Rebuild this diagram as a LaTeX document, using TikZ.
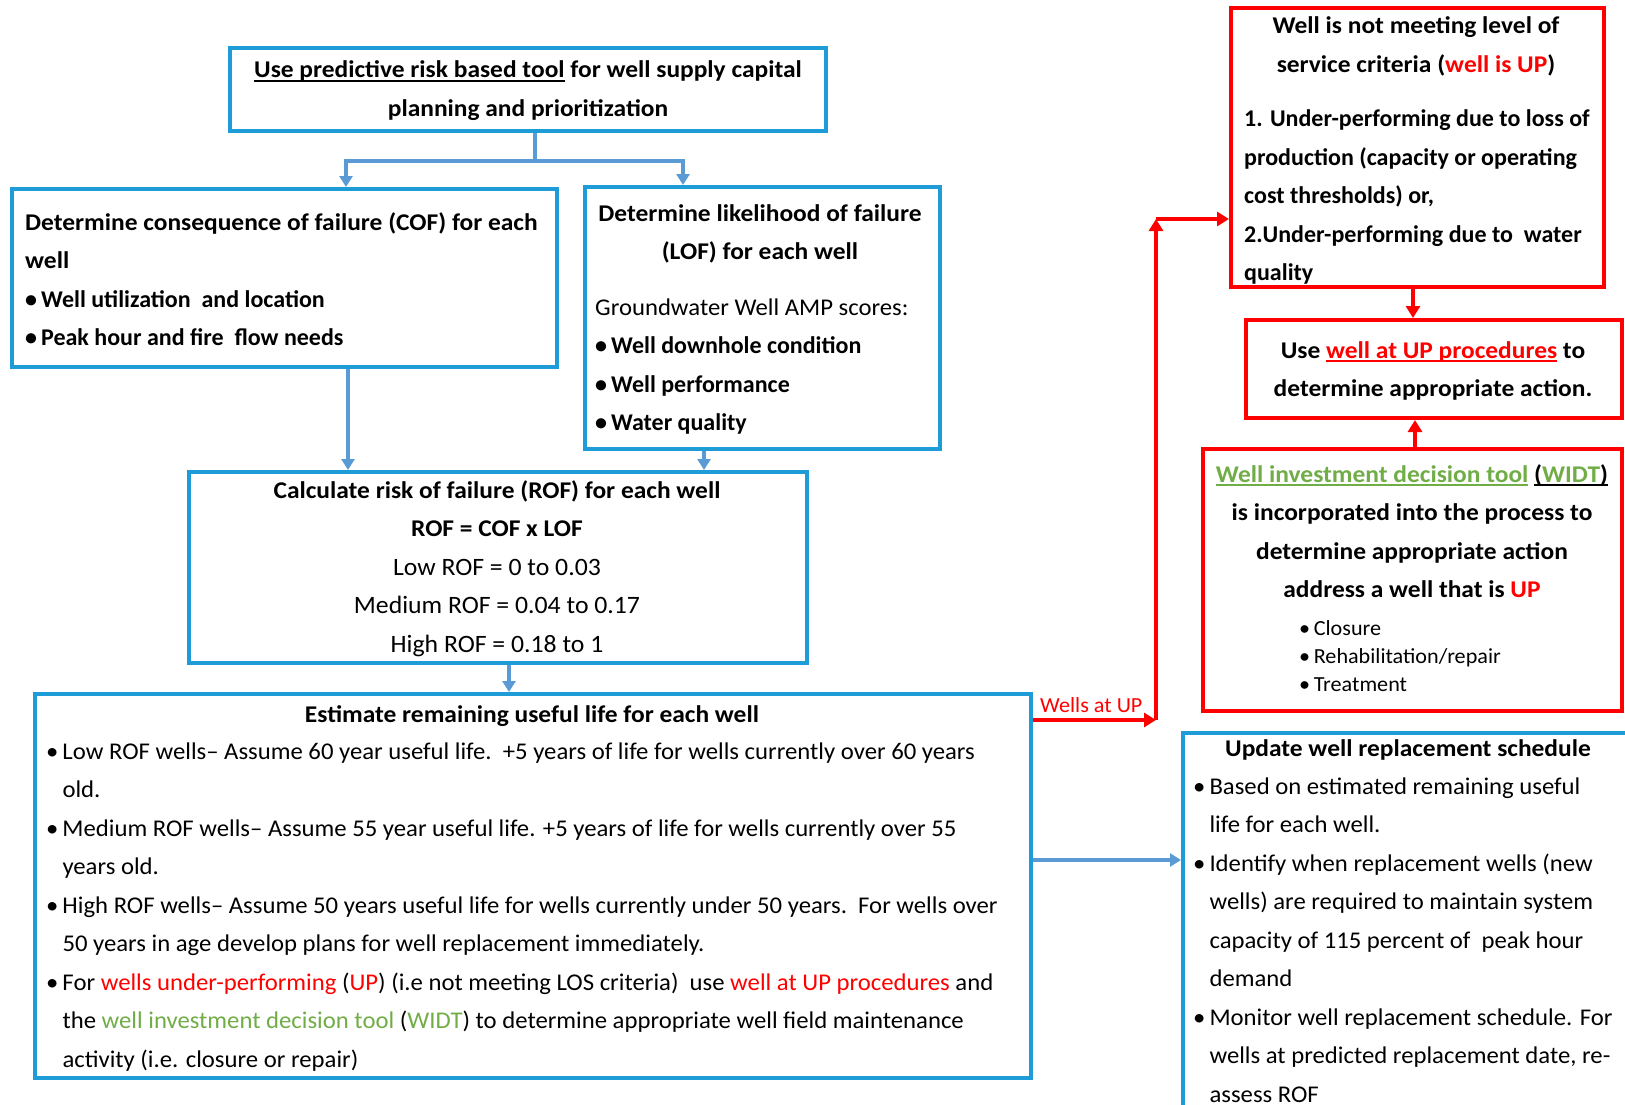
\documentclass[tikz,border=0pt]{standalone}
\usepackage{fontspec}
\setmainfont{Carlito}[UprightFeatures={FakeStretch=1.03},BoldFeatures={FakeStretch=1.06}]
\newfontfamily\plainfam{Carlito}
\usetikzlibrary{arrows.meta,fit}

\definecolor{boxblue}{HTML}{1E9CD7}
\definecolor{arrblue}{HTML}{5B9BD5}
\definecolor{upred}{HTML}{FF0000}
\definecolor{widtgreen}{HTML}{70AD47}

% underline at a fixed depth, in the current colour
\newcommand\ulc[1]{\leavevmode\setbox0\hbox{#1}\rlap{\raisebox{-4pt}{\rule{\wd0}{1.6pt}}}\box0\relax}
\newcommand\rd[1]{\textcolor{upred}{#1}}
\newcommand\gr[1]{\textcolor{widtgreen}{#1}}
\newcommand\blk[2]{\begin{tabular}[t]{@{}#1@{}}#2\end{tabular}}
\newcommand\bul{\textbullet\,}

\begin{document}
\begin{tikzpicture}[x=1pt,y=-1pt,
  bluebox/.style={draw=boxblue, line width=4pt, inner sep=0pt, fit={#1}},
  redbox/.style={draw=upred, line width=4pt, inner sep=0pt, fit={#1}},
  txt/.style={inner sep=0pt, font=\fontsize{24}{38.5}\selectfont},
  btxt/.style={inner sep=0pt, font=\fontsize{24}{38.5}\selectfont\bfseries},
  small/.style={inner sep=0pt, font=\fontsize{21.5}{28}\selectfont},
  bconn/.style={draw=arrblue, line width=3.5pt, -{Triangle[width=13pt,length=11pt]}},
  bline/.style={draw=arrblue, line width=3.5pt},
  rconn/.style={draw=upred, line width=4pt, -{Triangle[width=14pt,length=12pt]}}]

\useasboundingbox (0,0) rectangle (1625,1105);
\clip (0,0) rectangle (1625,1105);

% ---------- boxes ----------
\node[bluebox={(230,48) (826,131)}] (tool) {};
\node[bluebox={(12,189) (557,367)}] (cof) {};
\node[bluebox={(585,187) (940,449)}] (lof) {};
\node[bluebox={(189,472) (807,663)}] (rof) {};
\node[bluebox={(35,694) (1031,1078)}] (rul) {};
\node[bluebox={(1183,733) (1700,1200)}] (sched) {};
\node[redbox={(1231,8) (1604,287)}] (notmeet) {};
\node[redbox={(1246,320) (1622,418)}] (upproc) {};
\node[redbox={(1203,449) (1622,711)}] (widt) {};

% ---------- texts ----------
\node[btxt, anchor=base] (toolT) at (528,78)
  {\blk{c}{\ulc{Use predictive risk based tool} for well supply capital\\ planning and prioritization}};

\node[btxt, anchor=base west] (cofT) at (25,230)
  {\blk{l}{Determine consequence of failure (COF) for each\\ well\\
   {\plainfam\bfseries\bul Well utilization\ \ and location}\\ {\plainfam\bfseries\bul Peak hour and fire\ \ flow needs}}};

\node[btxt, anchor=base] (lofT) at (760,221)
  {\blk{c}{Determine likelihood of failure\\ (LOF) for each well}};
\node[txt, anchor=base west] (lofB) at (595,315)
  {\blk{l}{Groundwater Well AMP scores:\\ {\plainfam\bfseries\bul Well downhole condition}\\
   {\plainfam\bfseries\bul Well performance}\\ {\plainfam\bfseries\bul Water quality}}};

\node[txt, anchor=base] (rofT) at (497,498)
  {\blk{c}{\textbf{Calculate risk of failure (ROF) for each well}\\ \textbf{ROF = COF x LOF}\\
   {\fontsize{25}{38.5}\selectfont Low ROF = 0 to 0.03}\\ {\fontsize{25}{38.5}\selectfont Medium ROF = 0.04 to 0.17}\\
   {\fontsize{25}{38.5}\selectfont High ROF = 0.18 to 1}}};

\node[btxt, anchor=base] (rulT) at (532,722)
  {Estimate remaining useful life for each well};
\node[txt, anchor=base west] (rulB) at (46,759)
  {\blk{l}{\bul Low ROF wells– Assume 60 year useful life.\ \ +5 years of life for wells currently over 60 years\\
   \phantom{\bul}old.\\
   \bul Medium ROF wells– Assume 55 year useful life. +5 years of life for wells currently over 55\\
   \phantom{\bul}years old.\\
   \bul High ROF wells– Assume 50 years useful life for wells currently under 50 years.\ \ For wells over\\
   \phantom{\bul}50 years in age develop plans for well replacement immediately.\\
   \bul For \rd{wells under-performing} (\rd{UP}) (i.e not meeting LOS criteria)\ \ use \rd{well at UP procedures} and\\
   \phantom{\bul}the \gr{well investment decision tool} (\gr{WIDT}) to determine appropriate well field maintenance\\
   \phantom{\bul}activity (i.e. closure or repair)}};

\node[btxt, anchor=base] (notmeetT) at (1416,34)
  {\blk{c}{Well is not meeting level of\\ service criteria (\rd{well is UP})}};
\node[txt, anchor=base west, font=\fontsize{24}{38.5}\plainfam\bfseries] (notmeetB) at (1244,127)
  {\blk{l}{1. Under-performing due to loss of\\ production (capacity or operating\\
   cost thresholds) or,\\ 2.Under-performing due to\ \ water\\ quality}};

\node[btxt, anchor=base] (upprocT) at (1433,358)
  {\blk{c}{Use \rd{\ulc{well at UP procedures}} to\\ determine appropriate action.}};

\node[btxt, anchor=base] (widtT) at (1412,482)
  {\blk{c}{\gr{\ulc{Well investment decision tool}} \ulc{(\gr{WIDT})}\\ is incorporated into the process to\\
   determine appropriate action\\ address a well that is \rd{UP}}};
\node[small, anchor=base west] (widtB) at (1299,635)
  {\blk{l}{\bul Closure\\ \bul Rehabilitation/repair\\ \bul Treatment}};

\node[btxt, anchor=base] (schedT) at (1408,756)
  {Update well replacement schedule};
\node[txt, anchor=base west] (schedB) at (1193,794)
  {\blk{l}{\bul Based on estimated remaining useful\\ \phantom{\bul}life for each well.\\
   \bul Identify when replacement wells (new\\ \phantom{\bul}wells) are required to maintain system\\
   \phantom{\bul}capacity of 115 percent of\ \ peak hour\\ \phantom{\bul}demand\\
   \bul Monitor well replacement schedule. For\\ \phantom{\bul}wells at predicted replacement date, re-\\
   \phantom{\bul}assess ROF}};

\node[inner sep=0pt, anchor=base west, text=upred, font=\fontsize{21.5}{26}\selectfont] (upLbl) at (1040,712) {Wells at UP};

% ---------- connectors ----------
\coordinate (split) at (535,161);
\draw[bline] (tool.south -| split) -- (split);
\draw[bconn] (split) -| (cof.north -| 346,0);
\draw[bconn] (split) -| (lof.north -| 683,0);
\draw[bconn] (cof.south -| 348,0) -- (rof.north -| 348,0);
\draw[bconn] (lof.south -| 704,0) -- (rof.north -| 704,0);
\draw[bconn] (rof.south -| 509,0) -- (rul.north -| 509,0);
\draw[bconn] (rul.east |- 0,860) -- (sched.west |- 0,860);

\coordinate (upA) at (1156,720);
\coordinate (upB) at (1156,219);
\draw[rconn] (rul.east |- upA) -- (upA);
\draw[rconn] (upA) -- (upB);
\draw[rconn] (upB) -- (notmeet.west |- upB);
\draw[rconn] (notmeet.south -| 1413,0) -- (upproc.north -| 1413,0);
\draw[rconn] (widt.north -| 1415,0) -- (upproc.south -| 1415,0);
\end{tikzpicture}
\end{document}
